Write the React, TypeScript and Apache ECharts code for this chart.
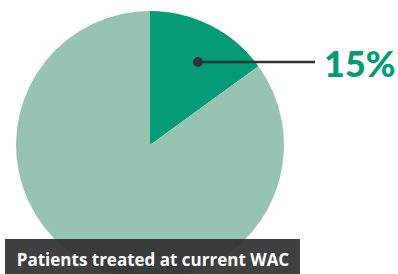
import React, { useEffect, useRef } from "react";
import * as echarts from "echarts";

const categories = ["Patients treated at current WAC", "Other patients"];
const values = [15, 85];
const colors = ["#069B77", "#97C4B1"];
const caption = "Patients treated at current WAC";

export default function App() {
  const ref = useRef<HTMLDivElement>(null);
  useEffect(() => {
    if (!ref.current) return;
    const chart = echarts.init(ref.current, null, { renderer: "svg" });
    chart.setOption({
      animation: false,
      backgroundColor: "#ffffff",
      series: [
        {
          type: "pie",
          center: [150, 145],
          radius: 134,
          startAngle: 90,
          clockwise: true,
          silent: true,
          z: 1,
          label: { show: false },
          labelLine: { show: false },
          data: categories.map((c, i) => ({
            name: c,
            value: values[i],
            itemStyle: { color: colors[i] },
          })),
        },
      ],
      graphic: [
        {
          type: "line",
          z: 100,
          shape: { x1: 198, y1: 62, x2: 315, y2: 62 },
          style: { stroke: "#333333", lineWidth: 2.5 },
        },
        {
          type: "circle",
          z: 101,
          shape: { cx: 198, cy: 62, r: 5 },
          style: { fill: "#333333" },
        },
        {
          type: "text",
          z: 100,
          x: 324,
          y: 63,
          style: {
            text: `${values[0]}%`,
            fill: "#069B77",
            font: "900 36px Lato, 'Noto Sans', sans-serif",
            verticalAlign: "middle",
          },
        },
        {
          type: "rect",
          z: 100,
          shape: { x: 5, y: 239, width: 295, height: 36 },
          style: { fill: "rgba(48,50,48,0.93)" },
        },
        {
          type: "text",
          z: 101,
          x: 153,
          y: 259,
          style: {
            text: caption,
            fill: "#ffffff",
            font: "bold 17px 'Open Sans', sans-serif",
            align: "center",
            verticalAlign: "middle",
          },
        },
      ],
    });
    return () => chart.dispose();
  }, []);
  return (
    <div
      ref={ref}
      style={{ position: "fixed", left: 0, top: 0, width: 398, height: 274 }}
    />
  );
}
